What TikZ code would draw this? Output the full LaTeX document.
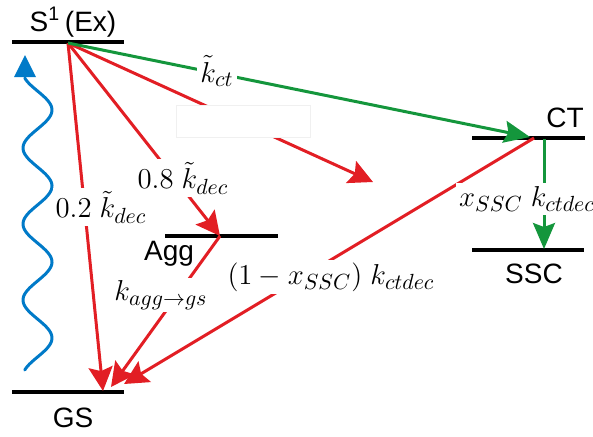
\documentclass[tikz,border=0pt]{standalone}
\usepackage{fontspec}
\setmainfont{Liberation Sans}
\usetikzlibrary{arrows.meta}
\definecolor{cred}{RGB}{226,30,36}
\definecolor{cgreen}{RGB}{20,150,60}
\definecolor{cblue}{RGB}{0,122,200}
\tikzset{
  level/.style={line width=1.6pt, black},
  redarrow/.style={line width=1.5pt, cred, -{Stealth[length=12pt,width=12pt,inset=2pt]}},
  redline/.style={line width=1.5pt, cred},
  greenarrow/.style={line width=1.5pt, cgreen, -{Stealth[length=13pt,width=11pt,inset=2pt]}},
  statelabel/.style={font=\fontsize{14}{16}\selectfont, inner sep=0pt},
  ratelabel/.style={font=\fontsize{15}{18}\selectfont, fill=white, inner sep=1.5pt},
}
\begin{document}
\begin{tikzpicture}[x=0.5pt,y=-0.5pt]
\useasboundingbox (0,0) rectangle (593,436);
% levels
\draw[level] (12,42) -- (124,42);
\draw[level] (12,392) -- (124,392);
\draw[level] (165,236) -- (278,236);
\draw[level] (472,138) -- (585,138);
\draw[level] (472,250) -- (584,250);
% state labels
\node[statelabel] (lS1) at (73,22) {S\textsuperscript{1}\,(Ex)};
\node[statelabel] (lGS) at (73,418) {GS};
\node[statelabel] (lAgg) at (169,254) {Agg};
\node[statelabel] (lCT) at (565,118) {CT};
\node[statelabel] (lSSC) at (534,274) {SSC};
% anchor points
\coordinate (S1) at (68,43);
\coordinate (GSa) at (103,391);
\coordinate (GSb) at (111,387);
\coordinate (GSc) at (124,384);
\coordinate (AggP) at (220,236);
\coordinate (CTin) at (530,137);
\coordinate (CTout) at (534,138);
\coordinate (CTdown) at (544,139);
\coordinate (SSCP) at (544,249);
\coordinate (Mid) at (373,182);
% excitation wave
\draw[line width=1.5pt, cblue, line cap=round]
  plot[domain=370:78, samples=150] ({37.5+14.5*cos(4.7368*(\x-110))}, \x);
\fill[cblue] (14,77) -- (36,77) -- (25,55) -- cycle;
% transitions
\draw[redarrow] (S1) -- (GSa);
\draw[redarrow] (S1) -- (AggP);
\draw[redarrow] (S1) -- (Mid);
\draw[redarrow] (AggP) -- (GSb);
\draw[redarrow] (CTout) -- (GSc);
\draw[greenarrow] (S1) -- (CTin);
\draw[greenarrow] (CTdown) -- (SSCP);
% empty white box
\node[fill=white, draw=black!6, minimum width=134*0.5pt, minimum height=32*0.5pt, inner sep=0pt] (blank) at (243,121) {};
% rate labels
\node[ratelabel] (kct) at (217,71) {$\tilde{k}_{ct}$};
\node[ratelabel] (k02) at (101,207) {$0.2\;\tilde{k}_{dec}$};
\node[ratelabel] (k08) at (183,178) {$0.8\;\tilde{k}_{dec}$};
\node[ratelabel] (kagg) at (161,295) {$k_{agg\rightarrow gs}$};
\node[ratelabel] (kct2) at (331,277) {$(1-x_{SSC})\;k_{ctdec}$};
\node[ratelabel] (kssc) at (527,199) {$x_{SSC}\;k_{ctdec}$};
\end{tikzpicture}
\end{document}
